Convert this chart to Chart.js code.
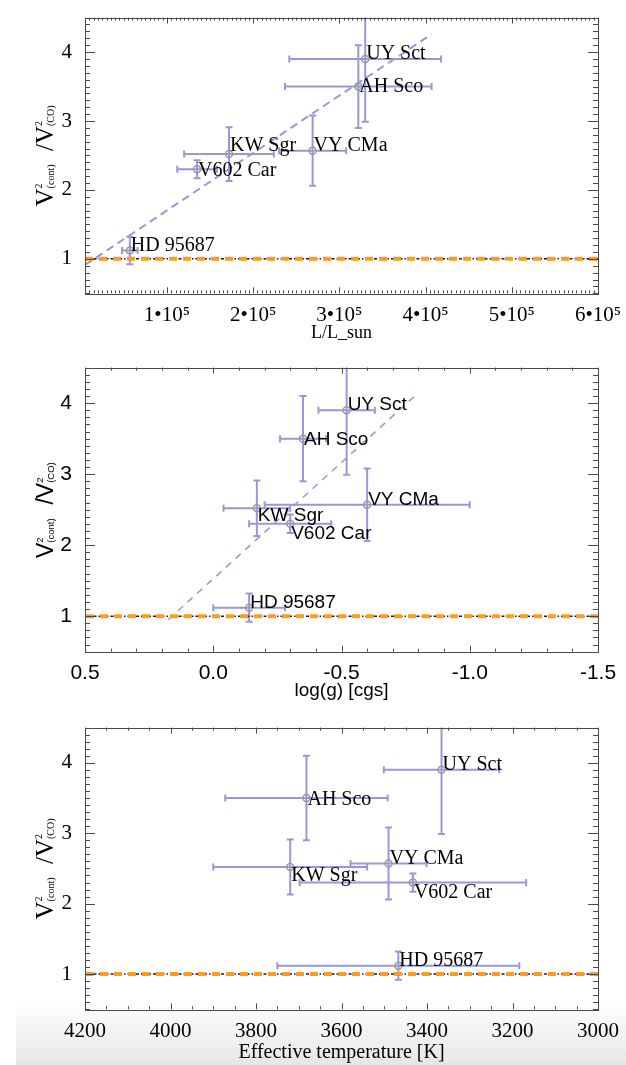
<!DOCTYPE html>
<html>
<head>
<meta charset="utf-8">
<title>Visibility ratio vs stellar parameters</title>
<script src="https://cdn.jsdelivr.net/npm/chart.js@4.4.0/dist/chart.umd.min.js"></script>
<style>
    html, body { margin: 0; padding: 0; background: #fff; }
    #page { position: relative; width: 626px; height: 1065px; overflow: hidden; }
    #shade {
        position: absolute; left: 16px; top: 1000px; width: 610px; height: 65px;
        background: linear-gradient(to bottom, rgba(232,232,232,0), #e6e6e6);
    }
    canvas { position: absolute; left: 0; }
</style>
</head>
<body>
<div id="page">
    <div id="shade"></div>
    <canvas id="lumChart" width="626" height="350" style="top:0"></canvas>
    <canvas id="loggChart" width="626" height="360" style="top:350px"></canvas>
    <canvas id="teffChart" width="626" height="355" style="top:710px"></canvas>
</div>
<script>
// ============================================
// V2(cont)/V2(CO) against L, log g and Teff
// ============================================

const stars = ["UY Sct", "AH Sco", "VY CMa", "KW Sgr", "V602 Car", "HD 95687"];
const ratio = [3.90, 3.50, 2.57, 2.52, 2.30, 1.12];
const ratioErr = [0.91, 0.60, 0.51, 0.39, 0.13, 0.20];

const lum = [330000, 322000, 269000, 172000, 135000, 57000];
const lumErr = [88000, 85000, 39000, 52000, 23000, 9000];
const logg = [-0.52, -0.35, -0.60, -0.17, -0.30, -0.14];
const loggErr = [0.11, 0.09, 0.40, 0.13, 0.16, 0.14];
const teff = [3366, 3682, 3490, 3720, 3433, 3467];
const teffErr = [135, 190, 89, 180, 265, 283];

// dashed fits (end points)
const lumFitX = [5000, 407000];
const lumFitY = [0.91, 4.26];
const loggFitX = [0.176, -0.798];
const loggFitY = [0.95, 4.14];

const unityLevel = 1;

const ratioTicks = [1, 2, 3, 4];
const lumTicks = [100000, 200000, 300000, 400000, 500000, 600000];
const lumTickLabels = ["1•10⁵", "2•10⁵", "3•10⁵", "4•10⁵", "5•10⁵", "6•10⁵"];
const loggTicks = [0.5, 0, -0.5, -1, -1.5];
const loggTickLabels = ["0.5", "0.0", "-0.5", "-1.0", "-1.5"];
const teffTicks = [4200, 4000, 3800, 3600, 3400, 3200, 3000];
const teffTickLabels = ["4200", "4000", "3800", "3600", "3400", "3200", "3000"];

const serif = "'Liberation Serif', 'Times New Roman', serif";
const sans = "'Liberation Sans', Arial, sans-serif";
const errColor = "rgb(152,152,216)";
const markerColor = "#9a9a9a";
const orange = "#ff9a22";
const frameColor = "#4a4a4a";

const panels = [
    {
        id: "lumChart", xs: lum, xErr: lumErr, xMin: 5000, xMax: 600000, reverse: false,
        ticks: lumTicks, tickLabels: lumTickLabels, xMinor: 5000,
        fitX: lumFitX, fitY: lumFitY, fitWidth: 2, fitDash: [8, 5],
        family: serif, tickSize: 21, labelSize: 20, title: "L/L_sun", titleSize: 18,
        height: 350, top: 5, bottom: 293.3, tickPad: 2, titlePad: 6,
        labelDy: [0, 5, 0, -3, 7, 0], yTitleSize: 25, ySubSize: 10
    },
    {
        id: "loggChart", xs: logg, xErr: loggErr, xMin: -1.5, xMax: 0.5, reverse: true,
        ticks: loggTicks, tickLabels: loggTickLabels, xMinor: 0.1,
        fitX: loggFitX, fitY: loggFitY, fitWidth: 1.5, fitDash: [7, 6],
        family: sans, tickSize: 21, labelSize: 19, title: "log(g) [cgs]", titleSize: 19,
        height: 360, top: 13.3, bottom: 301.7, tickPad: 1, titlePad: 7.5,
        labelDy: [0, 6, 0, 13, 15, 0], yTitleSize: 23, ySubSize: 9.5
    },
    {
        id: "teffChart", xs: teff, xErr: teffErr, xMin: 3000, xMax: 4200, reverse: true,
        ticks: teffTicks, tickLabels: teffTickLabels, xMinor: 50,
        fitX: null, fitY: null,
        family: serif, tickSize: 21, labelSize: 20, title: "Effective temperature [K]", titleSize: 20,
        height: 355, top: 11.7, bottom: 299.3, tickPad: 1.5, titlePad: 0,
        labelDy: [0, 7, 0, 14, 15, 0], yTitleSize: 25, ySubSize: 10
    }
];

function drawErrorBars(chart, p) {
    const { ctx, chartArea: a, scales: { x, y } } = chart;
    const cap = 3.5;
    ctx.save();
    ctx.beginPath();
    ctx.rect(a.left, a.top, a.right - a.left, a.bottom - a.top);
    ctx.clip();
    ctx.strokeStyle = errColor;
    ctx.lineWidth = 2;
    p.xs.forEach((xv, i) => {
        const px = x.getPixelForValue(xv);
        const py = y.getPixelForValue(ratio[i]);
        const x0 = x.getPixelForValue(xv - p.xErr[i]);
        const x1 = x.getPixelForValue(xv + p.xErr[i]);
        const y0 = y.getPixelForValue(ratio[i] - ratioErr[i]);
        const y1 = y.getPixelForValue(ratio[i] + ratioErr[i]);
        ctx.beginPath();
        ctx.moveTo(x0, py); ctx.lineTo(x1, py);
        ctx.moveTo(x0, py - cap); ctx.lineTo(x0, py + cap);
        ctx.moveTo(x1, py - cap); ctx.lineTo(x1, py + cap);
        ctx.moveTo(px, y0); ctx.lineTo(px, y1);
        ctx.moveTo(px - cap, y0); ctx.lineTo(px + cap, y0);
        ctx.moveTo(px - cap, y1); ctx.lineTo(px + cap, y1);
        ctx.stroke();
    });
    ctx.restore();
}

function drawStarLabels(chart, p) {
    const { ctx, scales: { x, y } } = chart;
    ctx.save();
    ctx.font = `${p.labelSize}px ${p.family}`;
    ctx.fillStyle = "#000";
    ctx.textAlign = "left";
    ctx.textBaseline = "alphabetic";
    p.xs.forEach((xv, i) => {
        ctx.fillText(stars[i], x.getPixelForValue(xv) + 1, y.getPixelForValue(ratio[i]) + p.labelDy[i]);
    });
    ctx.restore();
}

function isMajor(v, list) {
    return list.some((t) => Math.abs(t - v) < 1e-6 * Math.max(1, Math.abs(t)));
}

function drawFrame(chart, p) {
    const { ctx, chartArea: a, scales: { x, y } } = chart;
    ctx.save();
    ctx.strokeStyle = frameColor;
    ctx.lineWidth = 1;
    ctx.strokeRect(Math.round(a.left) + 0.5, Math.round(a.top) + 0.5,
        Math.round(a.right - a.left), Math.round(a.bottom - a.top));

    ctx.beginPath();
    // x ticks, bottom and top, pointing inwards
    const nx = Math.round((p.xMax - p.xMin) / p.xMinor);
    for (let k = 0; k <= nx; k++) {
        const v = p.xMin + k * p.xMinor;
        const px = Math.round(x.getPixelForValue(v)) + 0.5;
        const len = isMajor(v, p.ticks) ? 6 : 3;
        ctx.moveTo(px, a.bottom); ctx.lineTo(px, a.bottom - len);
        ctx.moveTo(px, a.top); ctx.lineTo(px, a.top + len);
    }
    // y ticks, left and right
    for (let k = 0; k <= 40; k++) {
        const v = 0.5 + k * 0.1;
        const py = Math.round(y.getPixelForValue(v)) + 0.5;
        const len = isMajor(v, ratioTicks) ? 10 : 5;
        ctx.moveTo(a.left, py); ctx.lineTo(a.left + len, py);
        ctx.moveTo(a.right, py); ctx.lineTo(a.right - len, py);
    }
    ctx.stroke();
    ctx.restore();
}

function drawYTitle(chart, p) {
    const { ctx, chartArea: a } = chart;
    const big = `${p.yTitleSize}px ${p.family}`;
    const small = `${p.ySubSize}px ${p.family}`;
    const parts = [
        { text: "V", sup: "2", sub: "(cont)" },
        { text: "  /V", sup: "2", sub: "(CO)" }
    ];
    ctx.save();
    let total = 0;
    const widths = parts.map((part) => {
        ctx.font = big;
        const w1 = ctx.measureText(part.text).width;
        ctx.font = small;
        const w2 = Math.max(ctx.measureText(part.sup).width, ctx.measureText(part.sub).width) + 1;
        total += w1 + w2;
        return [w1, w2];
    });
    ctx.translate(53, (a.top + a.bottom) / 2);
    ctx.rotate(-Math.PI / 2);
    ctx.fillStyle = "#000";
    ctx.textAlign = "left";
    ctx.textBaseline = "alphabetic";
    let cx = -total / 2;
    parts.forEach((part, i) => {
        ctx.font = big;
        ctx.fillText(part.text, cx, 0);
        cx += widths[i][0];
        ctx.font = small;
        ctx.fillText(part.sup, cx, -p.yTitleSize * 0.45);
        ctx.fillText(part.sub, cx, 1);
        cx += widths[i][1];
    });
    ctx.restore();
}

function buildPanel(p) {
    const points = p.xs.map((v, i) => ({ x: v, y: ratio[i] }));
    const unity = [{ x: p.xMin, y: unityLevel }, { x: p.xMax, y: unityLevel }];

    // lower index is drawn on top
    const datasets = [
        {
            data: points, showLine: false, pointRadius: 3.5, pointBorderWidth: 1.5,
            pointBorderColor: markerColor, pointBackgroundColor: "rgba(0,0,0,0)"
        },
        {
            data: unity, showLine: true, pointRadius: 0, borderColor: orange,
            borderWidth: 4, borderDash: [8, 6]
        },
        {
            data: unity, showLine: true, pointRadius: 0, borderColor: "#1a1a1a",
            borderWidth: 1.5, borderDash: [3, 2, 1.5, 2]
        }
    ];
    if (p.fitX) {
        datasets.push({
            data: p.fitX.map((v, i) => ({ x: v, y: p.fitY[i] })),
            showLine: true, pointRadius: 0, borderColor: errColor,
            borderWidth: p.fitWidth, borderDash: p.fitDash
        });
    }

    new Chart(document.getElementById(p.id), {
        type: "scatter",
        data: { datasets },
        options: {
            responsive: false,
            animation: false,
            events: [],
            layout: { padding: { left: 0, right: 28, top: p.top, bottom: 0 } },
            plugins: { legend: { display: false }, tooltip: { enabled: false } },
            scales: {
                x: {
                    type: "linear", min: p.xMin, max: p.xMax, reverse: p.reverse,
                    grid: { display: false }, border: { display: false },
                    afterBuildTicks: (s) => { s.ticks = p.ticks.map((v) => ({ value: v })); },
                    afterFit: (s) => { s.height = p.height - p.bottom; },
                    ticks: {
                        color: "#000", padding: p.tickPad, maxRotation: 0, autoSkip: false,
                        font: { family: p.family, size: p.tickSize },
                        callback: (v, i) => p.tickLabels[i]
                    },
                    title: {
                        display: true, text: p.title, color: "#000",
                        font: { family: p.family, size: p.titleSize },
                        padding: { top: 0, bottom: p.titlePad }
                    }
                },
                y: {
                    type: "linear", min: 0.5, max: 4.5,
                    grid: { display: false }, border: { display: false },
                    afterBuildTicks: (s) => { s.ticks = ratioTicks.map((v) => ({ value: v })); },
                    afterFit: (s) => { s.width = 85; },
                    ticks: {
                        color: "#000", padding: 5,
                        font: { family: p.family, size: p.tickSize },
                        callback: (v) => String(v)
                    }
                }
            }
        },
        plugins: [{
            id: "decor",
            beforeDatasetsDraw: (chart) => drawErrorBars(chart, p),
            afterDatasetsDraw: (chart) => drawStarLabels(chart, p),
            afterDraw: (chart) => { drawFrame(chart, p); drawYTitle(chart, p); }
        }]
    });
}

panels.forEach(buildPanel);
</script>
</body>
</html>
